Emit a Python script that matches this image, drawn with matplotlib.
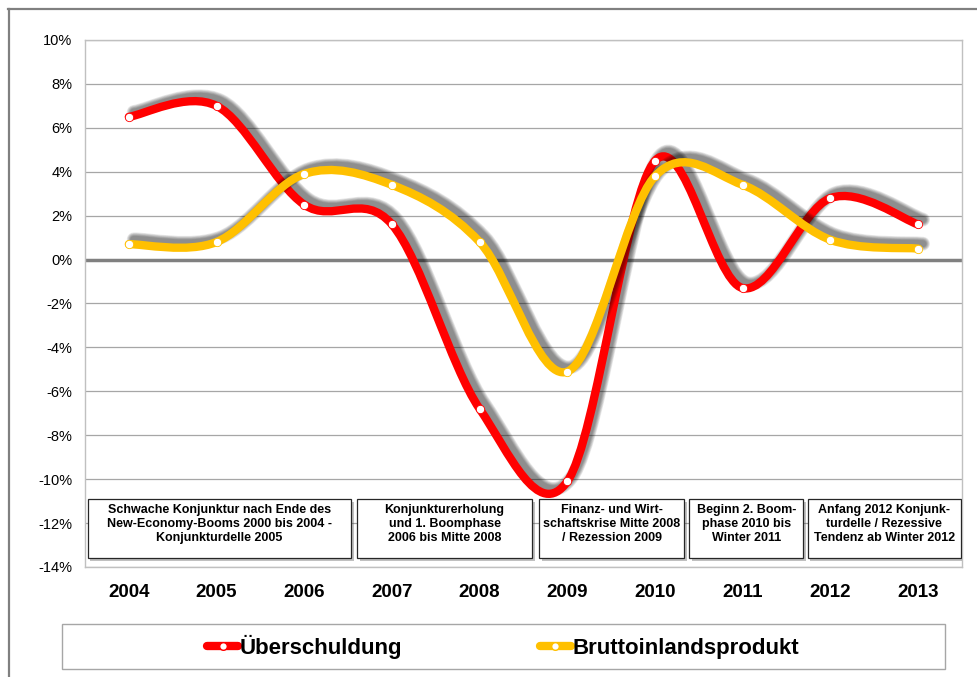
import numpy as np
import matplotlib
matplotlib.use("Agg")
import matplotlib.pyplot as plt
import matplotlib.patheffects as pe
from matplotlib.path import Path
from matplotlib.patches import PathPatch, Rectangle
from matplotlib.lines import Line2D

plt.rcParams["font.family"] = ["Liberation Sans", "DejaVu Sans"]

years = ["2004", "2005", "2006", "2007", "2008", "2009", "2010", "2011", "2012", "2013"]
ueberschuldung = [6.5, 7.0, 2.5, 1.6, -6.8, -10.1, 4.5, -1.3, 2.8, 1.6]
bip = [0.7, 0.8, 3.9, 3.4, 0.8, -5.1, 3.8, 3.4, 0.9, 0.5]
series_names = ["Überschuldung", "Bruttoinlandsprodukt"]
series_colors = ["#ff0000", "#ffc000"]
phase_texts = [
    "Schwache Konjunktur nach Ende des\nNew-Economy-Booms 2000 bis 2004 -\nKonjunkturdelle 2005",
    "Konjunkturerholung\nund 1. Boomphase\n2006 bis Mitte 2008",
    "Finanz- und Wirt-\nschaftskrise Mitte 2008\n/ Rezession 2009",
    "Beginn 2. Boom-\nphase 2010 bis\nWinter 2011",
    "Anfang 2012 Konjunk-\nturdelle / Rezessive\nTendenz ab Winter 2012",
]
# box extents in category units (layout)
phase_spans = [(-0.47, 2.53), (2.60, 4.60), (4.68, 6.33), (6.39, 7.69), (7.74, 9.49)]

W, H = 978, 677
fig = plt.figure(figsize=(W / 100, H / 100), dpi=100)
ax = fig.add_axes([85 / W, 1 - 567 / H, 877 / W, 527 / H])

x = np.arange(len(years))


def smooth_path(xs, ys):
    """Excel-like smoothed line: cubic bezier segments (Catmull-Rom)."""
    pts = np.column_stack([xs, ys]).astype(float)
    n = len(pts)
    verts = [pts[0]]
    codes = [Path.MOVETO]
    for i in range(n - 1):
        p0 = pts[max(i - 1, 0)]
        p1 = pts[i]
        p2 = pts[i + 1]
        p3 = pts[min(i + 2, n - 1)]
        verts += [p1 + (p2 - p0) / 6, p2 - (p3 - p1) / 6, p2]
        codes += [Path.CURVE4] * 3
    return Path(verts, codes)


def blur_shadow(lw, offset=(3.5, 3.5)):
    effects = []
    for k in range(5, -1, -1):
        effects.append(pe.SimpleLineShadow(offset=offset, shadow_color="black",
                                           alpha=0.09, linewidth=lw - 1 + k * 1.0))
    effects.append(pe.Normal())
    return effects


lw = 6
for vals, color in zip([ueberschuldung, bip], series_colors):
    patch = PathPatch(smooth_path(x, vals), facecolor="none", edgecolor=color,
                      linewidth=lw, capstyle="round", joinstyle="round", zorder=3)
    patch.set_path_effects(blur_shadow(lw))
    ax.add_patch(patch)
    ax.plot(x, vals, linestyle="none", marker="o", markersize=6,
            markerfacecolor="white", markeredgecolor=color, markeredgewidth=0.6,
            zorder=4)

ax.set_xlim(-0.5, len(years) - 0.5)
ax.set_ylim(-14, 10)
ax.set_yticks(np.arange(-14, 11, 2))
ax.set_yticklabels([f"{v}%" for v in range(-14, 11, 2)], fontsize=10.5)
ax.set_xticks(x)
ax.set_xticklabels(years, fontsize=13.5, fontweight="bold")
ax.tick_params(axis="y", length=0, pad=9)
ax.tick_params(axis="x", length=0, pad=12)
ax.grid(axis="y", color="#a6a6a6", linewidth=0.9)
ax.set_axisbelow(True)
ax.axhline(0, color="#808080", linewidth=2.5, zorder=2)
for s in ax.spines.values():
    s.set_color("#c0c0c0")
    s.set_linewidth(1.0)

for (x0, x1), txt in zip(phase_spans, phase_texts):
    box = Rectangle((x0, -13.6), x1 - x0, 2.7, facecolor="white",
                    edgecolor="#262626", linewidth=0.9, zorder=5)
    box.set_path_effects([pe.SimplePatchShadow(offset=(2, -2), alpha=0.35),
                          pe.Normal()])
    ax.add_patch(box)
    ax.text((x0 + x1) / 2, -12.05, txt, ha="center", va="center", fontsize=9,
            fontweight="bold", linespacing=1.2, zorder=6)

# legend frame and entries
fig.add_artist(Rectangle((62 / W, 1 - 669 / H), 883 / W, 45 / H, transform=fig.transFigure,
                         facecolor="white", edgecolor="#a6a6a6", linewidth=1.0))
handles = [Line2D([], [], color=c, linewidth=6, solid_capstyle="round", marker="o",
                  markersize=5.5, markerfacecolor="white", markeredgecolor=c)
           for c in series_colors]
fig.legend(handles, series_names, loc="center", bbox_to_anchor=(503 / W, 1 - 647 / H),
           ncol=2, frameon=False, prop={"weight": "bold", "size": 16},
           handlelength=1.4, handletextpad=0.05, columnspacing=6.2)

# outer chart frame (cropped)
fig.add_artist(Line2D([8 / W, 1], [1 - 8.5 / H] * 2, transform=fig.transFigure,
                      color="#808080", linewidth=1.6))
fig.add_artist(Line2D([8.5 / W] * 2, [0, 1 - 8.5 / H], transform=fig.transFigure,
                      color="#808080", linewidth=1.6))

fig.savefig("out.png", dpi=100)
